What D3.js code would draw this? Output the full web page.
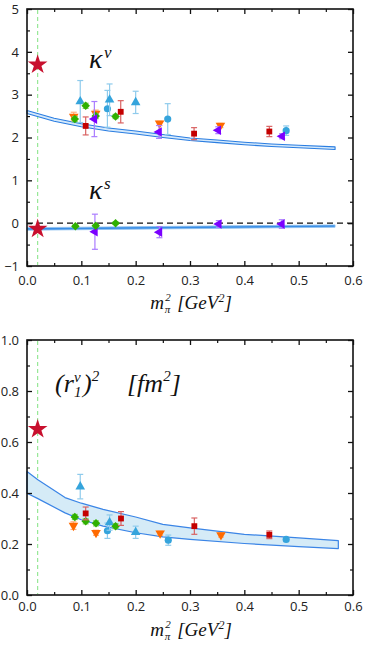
<!DOCTYPE html>
<html><head><meta charset="utf-8">
<script src="https://cdn.jsdelivr.net/npm/d3@7"></script>
<style>body{margin:0;background:#fff}svg{display:block}</style>
</head><body>
<svg id="c" width="366" height="646"></svg>
<script>
// ---------- data ----------
const physX = 0.0196;
const xTicks = [0,0.1,0.2,0.3,0.4,0.5,0.6];
const xMinor = [0.05,0.15,0.25,0.35,0.45,0.55];
const yTopTicks = [-1,0,1,2,3,4,5];
const yTopMinor = [-0.5,0.5,1.5,2.5,3.5,4.5];
const yBotTicks = [0,0.2,0.4,0.6,0.8,1.0];
const yBotMinor = [0.1,0.3,0.5,0.7,0.9];

// kappa_v
const kvTriX=[0.098,0.152,0.200], kvTriY=[2.84,2.88,2.82], kvTriE=[0.49,0.37,0.26];
const kvCirX=[0.148,0.259,0.477], kvCirY=[2.67,2.43,2.16], kvCirE=[0.43,0.36,0.11];
const kvDiaX=[0.088,0.108,0.1265,0.163], kvDiaY=[2.43,2.74,2.50,2.49], kvDiaE=[0.06,0.06,0.06,0.05];
const kvDowX=[0.086,0.1265,0.244,0.356], kvDowY=[2.49,2.56,2.33,2.28], kvDowE=[0.10,0.08,0.05,0.05];
const kvSqX=[0.108,0.1725,0.3075,0.446], kvSqY=[2.27,2.60,2.09,2.14], kvSqE=[0.21,0.26,0.14,0.12];
const kvLeX=[0.124,0.243,0.352,0.4696], kvLeY=[2.43,2.13,2.17,2.03], kvLeE=[0.41,0.15,0.08,0.06];
// kappa_s
const ksDiaX=[0.089,0.1265,0.163], ksDiaY=[-0.07,-0.06,0.0], ksDiaE=[0.03,0.03,0.03];
const ksLeX=[0.125,0.2437,0.353,0.469], ksLeY=[-0.20,-0.21,-0.02,-0.02], ksLeE=[0.41,0.13,0.08,0.10];
const starTopY=[3.70,-0.135];
// bands (top)
const kvBandX=[0,0.05,0.1,0.15,0.2,0.25,0.3,0.35,0.4,0.45,0.5,0.567];
const kvBandHi=[2.63,2.45,2.32,2.22,2.15,2.07,1.99,1.94,1.89,1.85,1.82,1.78];
const kvBandLo=[2.56,2.38,2.25,2.15,2.08,2.00,1.93,1.88,1.83,1.79,1.76,1.72];
const ksBandX=[0,0.567];
const ksBandHi=[-0.105,-0.04];
const ksBandLo=[-0.165,-0.095];
// r1v^2
const rTriX=[0.098,0.152,0.200], rTriY=[0.425,0.284,0.246], rTriE=[0.048,0.03,0.024];
const rCirX=[0.148,0.260,0.477], rCirY=[0.252,0.215,0.218], rCirE=[0.03,0.02,0.008];
const rDiaX=[0.088,0.108,0.127,0.163], rDiaY=[0.306,0.289,0.281,0.270], rDiaE=[0.01,0.01,0.01,0.01];
const rDowX=[0.0855,0.127,0.245,0.357], rDowY=[0.272,0.244,0.242,0.235], rDowE=[0.015,0.01,0.008,0.008];
const rSqX=[0.108,0.173,0.308,0.446], rSqY=[0.320,0.300,0.270,0.236], rSqE=[0.025,0.027,0.032,0.015];
const starBotY=[0.65];
const rBandX=[0,0.02,0.07,0.1,0.14,0.2,0.25,0.3,0.4,0.5,0.573];
const rBandHi=[0.484,0.452,0.382,0.360,0.336,0.306,0.277,0.263,0.238,0.224,0.213];
const rBandLo=[0.399,0.378,0.322,0.295,0.270,0.244,0.228,0.218,0.202,0.190,0.182];

// ---------- colours ----------
const C = {
  blue:"#35a4dc", blueE:"#8fcbec",
  green:"#2fb000", greenE:"#85d065",
  orange:"#ff6a00", orangeE:"#ffae7a",
  red:"#c40000", redE:"#d96262",
  purple:"#7b00ff", purpleE:"#aa7cff",
  star:"#c8102e"
};

const svg = d3.select("#c");
const x = d3.scaleLinear([0,0.6],[27,353]);
const yT = d3.scaleLinear([-1,5],[266,9]);
const yB = d3.scaleLinear([0,1],[595,340]);
const tickFont = "'Open Sans', sans-serif";

function frame(y, yMaj, yMin, yFmt, xPad){
  const g = svg.append("g");
  const [yb, yt] = y.range();
  const axes = [
    [d3.axisBottom(x), `translate(0,${yb})`, xTicks, xMinor, d3.format(".1f"), xPad],
    [d3.axisTop(x), `translate(0,${yt})`, xTicks, xMinor, null, 0],
    [d3.axisLeft(y), `translate(${x(0)},0)`, yMaj, yMin, yFmt, 8],
    [d3.axisRight(y), `translate(${x(0.6)},0)`, yMaj, yMin, null, 0]
  ];
  axes.forEach(([ax, tr, maj, min, fmt, pad])=>{
    const a = g.append("g").attr("transform",tr)
      .call(ax.tickValues(maj).tickSize(-5).tickPadding(pad).tickFormat(fmt ? fmt : ()=>""));
    a.select(".domain").remove();
    a.selectAll("line").attr("stroke","#111").attr("stroke-width",1.3);
    a.selectAll("text").attr("font-family",tickFont).attr("font-size",13).attr("fill","#222");
    const b = g.append("g").attr("transform",tr)
      .call(ax.tickValues(min).tickSize(-3).tickFormat(()=>""));
    b.select(".domain").remove();
    b.selectAll("line").attr("stroke","#111").attr("stroke-width",1.2);
  });
  g.append("rect").attr("x",x(0)).attr("y",yt).attr("width",x(0.6)-x(0)).attr("height",yb-yt)
    .attr("fill","none").attr("stroke","#111").attr("stroke-width",1.6);
  return g;
}

function band(y, xs, hi, lo, fill, stroke, sw){
  const pts = xs.map((d,i)=>[x(d),y(hi[i])]).concat(xs.map((d,i)=>[x(d),y(lo[i])]).reverse());
  svg.append("path").attr("d", d3.line()(pts)+"Z")
    .attr("fill",fill).attr("stroke",stroke).attr("stroke-width",sw).attr("stroke-linejoin","round");
}

function series(y, xs, ys, es, col, ecol, type){
  const g = svg.append("g");
  xs.forEach((d,i)=>{
    const cx = x(d), t = y(ys[i]+es[i]), b = y(ys[i]-es[i]);
    g.append("line").attr("x1",cx).attr("x2",cx).attr("y1",t).attr("y2",b).attr("stroke",ecol).attr("stroke-width",1.2);
    [t,b].forEach(v=>g.append("line").attr("x1",cx-3).attr("x2",cx+3).attr("y1",v).attr("y2",v).attr("stroke",ecol).attr("stroke-width",1.2));
  });
  const shapes = {
    tri:[d3.symbolTriangle,40,0], down:[d3.symbolTriangle,40,180], left:[d3.symbolTriangle,40,-90],
    cir:[d3.symbolCircle,40,0], sq:[d3.symbolSquare,34,0], dia:[d3.symbolDiamond2,46,0]
  };
  const [sym,size,rot] = shapes[type];
  xs.forEach((d,i)=>{
    g.append("path").attr("d", d3.symbol(sym,size)())
      .attr("transform",`translate(${x(d)},${y(ys[i])}) rotate(${rot})`)
      .attr("fill",col);
  });
}

function stars(y, ys){
  ys.forEach(v=>svg.append("path").attr("d",d3.symbol(d3.symbolStar,120)())
    .attr("transform",`translate(${x(physX)},${y(v)})`).attr("fill",C.star));
}

function vdash(y){
  const [yb,yt]=y.range();
  svg.append("line").attr("x1",x(physX)).attr("x2",x(physX)).attr("y1",yt+1).attr("y2",yb-1)
    .attr("stroke","#8ee68e").attr("stroke-width",1.1).attr("stroke-dasharray","4,3");
}

// ---------- top panel ----------
vdash(yT);
svg.append("line").attr("x1",x(0)).attr("x2",x(0.6)).attr("y1",yT(0)).attr("y2",yT(0))
  .attr("stroke","#111").attr("stroke-width",1.2).attr("stroke-dasharray","6,4");
band(yT, kvBandX, kvBandHi, kvBandLo, "#d4e9fb", "#2a7de1", 1.1);
band(yT, ksBandX, ksBandHi, ksBandLo, "#3a8ee6", "#8fc2f0", 0.8);
series(yT, kvCirX, kvCirY, kvCirE, C.blue, C.blueE, "cir");
series(yT, kvTriX, kvTriY, kvTriE, C.blue, C.blueE, "tri");
series(yT, kvDowX, kvDowY, kvDowE, C.orange, C.orangeE, "down");
series(yT, kvDiaX, kvDiaY, kvDiaE, C.green, C.greenE, "dia");
series(yT, kvSqX, kvSqY, kvSqE, C.red, C.redE, "sq");
series(yT, kvLeX, kvLeY, kvLeE, C.purple, C.purpleE, "left");
series(yT, ksLeX, ksLeY, ksLeE, C.purple, C.purpleE, "left");
series(yT, ksDiaX, ksDiaY, ksDiaE, C.green, C.greenE, "dia");
stars(yT, starTopY);
frame(yT, yTopTicks, yTopMinor, d3.format("d"), 10);

// ---------- bottom panel ----------
vdash(yB);
band(yB, rBandX, rBandHi, rBandLo, "#d5ebf7", "#3b85e6", 1.2);
series(yB, rCirX, rCirY, rCirE, C.blue, C.blueE, "cir");
series(yB, rTriX, rTriY, rTriE, C.blue, C.blueE, "tri");
series(yB, rDowX, rDowY, rDowE, C.orange, C.orangeE, "down");
series(yB, rDiaX, rDiaY, rDiaE, C.green, C.greenE, "dia");
series(yB, rSqX, rSqY, rSqE, C.red, C.redE, "sq");
stars(yB, starBotY);
frame(yB, yBotTicks, yBotMinor, d3.format(".1f"), 7);

// ---------- texts ----------
const serif = "'Liberation Serif', 'DejaVu Serif', serif";
function kappa(sup, bx, by){
  const t = svg.append("text").attr("font-family",serif).attr("font-style","italic").attr("fill","#111");
  t.append("tspan").attr("x",bx).attr("y",by).attr("font-size",28).text("κ");
  t.append("tspan").attr("x",bx+15).attr("y",by-10).attr("font-size",17).text(sup);
}
kappa("v", 89, 68);
kappa("s", 89, 199);

function xlabel(cx, by){
  const g = svg.append("g");
  const t = g.append("text").attr("font-family",serif).attr("font-style","italic").attr("fill","#111").attr("font-size",19);
  t.append("tspan").attr("x",0).attr("y",by).text("m");
  t.append("tspan").attr("x",14.5).attr("y",by+4).attr("font-size",11).text("π");
  t.append("tspan").attr("x",15).attr("y",by-8).attr("font-size",11).text("2");
  t.append("tspan").attr("x",27).attr("y",by).text("[GeV");
  t.append("tspan").attr("dy",-7).attr("font-size",12).text("2");
  t.append("tspan").attr("dy",7).text("]");
  const bb = t.node().getBBox();
  g.attr("transform",`translate(${cx - bb.width/2 - bb.x},0)`);
}
xlabel(191, 309);
xlabel(191, 636);

(function(){
  const t = svg.append("text").attr("font-family",serif).attr("font-style","italic").attr("fill","#111").attr("font-size",26);
  const bx=55, by=392;
  t.append("tspan").attr("x",bx).attr("y",by).text("(r");
  t.append("tspan").attr("x",bx+19).attr("y",by-10).attr("font-size",15).text("v");
  t.append("tspan").attr("x",bx+19).attr("y",by+5).attr("font-size",15).text("1");
  t.append("tspan").attr("x",bx+28).attr("y",by).text(")");
  t.append("tspan").attr("dy",-11).attr("font-size",15).text("2");
  t.append("tspan").attr("x",bx+72).attr("y",by).text("[fm");
  t.append("tspan").attr("dy",-11).attr("font-size",15).text("2");
  t.append("tspan").attr("dy",11).text("]");
})();
</script>
</body></html>
